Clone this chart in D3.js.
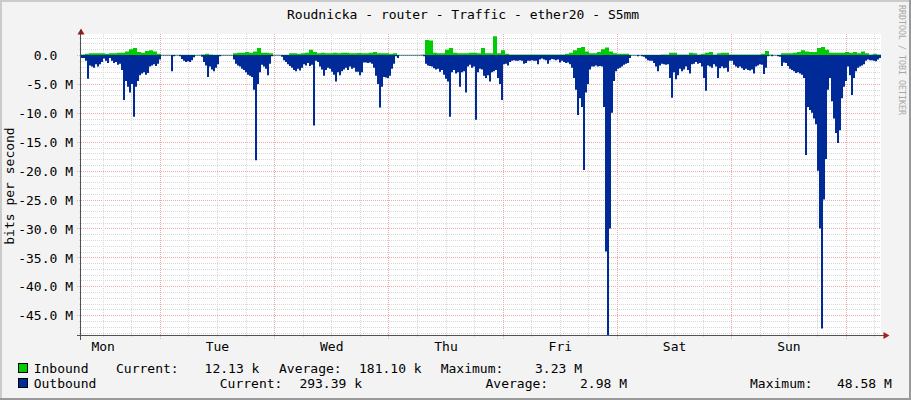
<!DOCTYPE html>
<html><head><meta charset="utf-8">
<script src="https://cdn.jsdelivr.net/npm/d3@7"></script>
<style>
body{margin:0;background:#f3f3f3}
text{font-family:"DejaVu Sans Mono",monospace;}
</style>
</head><body>
<svg id="c" width="911" height="400"></svg>
<script>
// ---------------- DATA ----------------
const title = "Roudnicka - router - Traffic - ether20 - S5mm";
const yAxisTitle = "bits per second";
const watermark = "RRDTOOL / TOBI OETIKER";
const yTickValues = [0, -5, -10, -15, -20, -25, -30, -35, -40, -45]; // Mbit/s
const yTickLabels = ["0.0  ", "-5.0 M", "-10.0 M", "-15.0 M", "-20.0 M", "-25.0 M", "-30.0 M", "-35.0 M", "-40.0 M", "-45.0 M"];
const dayLabels = ["Mon", "Tue", "Wed", "Thu", "Fri", "Sat", "Sun"];
const startTime = new Date(2024, 0, 1, 7, 27); // Monday 07:27
const spanHours = 168;
const yMin = -48.6, yMax = 3.63;

// Outbound traffic, Mbit/s (plotted downward), 400 consecutive samples
const outbound = [
  0.5,0.5,1.0,4.1,1.8,2.0,2.2,1.6,2.0,1.6,1.2,0.6,1.0,1.4,0.5,1.0,1.4,1.2,1.7,1.5,
  2.6,7.8,4.5,5.5,6.5,5.0,10.7,5.5,4.5,3.5,3.2,3.0,3.4,3.1,2.0,1.8,1.6,1.9,1.5,0.8,
  0.1,0.1,0.1,0.1,0.1,2.8,0.2,0.1,0.1,0.2,0.7,1.0,1.2,1.1,1.2,0.9,0.4,0.1,0.1,0.1,
  0.3,1.2,1.8,3.8,2.0,2.5,2.8,2.2,1.6,0.2,0.1,0.1,0.1,0.1,0.1,0.1,0.8,1.5,1.8,2.0,
  2.4,2.6,3.0,3.4,3.6,3.8,6.0,18.2,5.0,3.0,1.7,2.0,2.4,3.5,1.5,0.2,0.1,0.1,0.1,0.1,
  0.3,0.9,1.2,1.6,1.9,2.2,2.6,2.8,2.4,2.7,2.2,1.6,1.8,1.4,1.9,1.7,12.2,1.0,1.2,2.0,
  2.5,3.6,2.6,2.2,2.4,2.9,3.4,4.6,3.0,3.5,2.8,2.5,2.2,2.6,2.0,2.4,2.2,2.9,2.9,3.5,
  3.0,1.3,1.3,1.4,1.3,1.5,2.2,3.6,5.0,9.1,5.5,3.8,3.9,4.0,3.6,2.4,1.5,0.2,0.5,0.1,
  0.1,0.1,0.1,0.1,0.1,0.1,0.1,0.1,0.1,0.1,0.1,0.2,1.5,1.8,1.9,2.0,2.3,2.5,2.4,2.9,
  2.6,3.4,4.1,4.6,10.7,3.0,2.6,3.2,3.0,5.5,3.0,2.8,6.5,2.0,1.7,2.2,2.0,11.2,3.0,2.4,
  2.5,3.6,4.0,3.5,4.6,3.0,2.8,2.6,4.0,5.0,7.8,1.6,1.5,1.8,1.2,1.0,0.9,1.0,1.0,0.9,
  1.0,1.5,1.4,1.0,1.0,0.9,1.0,1.0,1.6,0.8,0.6,0.8,0.9,1.5,0.9,0.7,0.8,0.9,0.8,1.3,
  1.0,1.2,1.4,1.3,1.6,2.2,4.0,6.0,10.4,7.5,9.0,19.9,6.5,5.0,2.5,2.0,2.0,1.8,2.0,1.9,
  2.0,9.0,34.0,48.58,30.0,10.0,4.5,2.8,2.4,2.2,2.0,1.7,1.5,1.4,0.5,0.1,0.1,0.1,0.2,0.1,
  0.2,0.3,0.6,0.9,1.0,1.0,1.4,2.0,2.8,1.8,1.5,1.6,1.7,1.6,4.0,7.4,3.0,4.2,3.5,2.4,
  2.8,2.5,2.0,2.6,3.2,1.6,1.5,1.2,1.5,1.4,2.0,4.0,6.2,1.8,2.0,2.2,1.6,2.0,4.0,2.3,
  2.0,2.3,2.2,2.9,1.0,1.0,1.7,2.0,2.2,2.0,2.3,2.6,2.4,2.6,2.7,2.5,3.2,2.0,1.8,1.6,
  1.7,3.3,2.2,0.2,0.1,0.2,0.1,0.1,0.2,0.3,1.9,1.3,1.4,1.9,2.4,2.6,2.8,3.1,3.0,3.2,
  3.4,4.0,17.3,9.0,9.5,10.0,11.0,12.0,20.0,30.0,47.3,25.0,18.0,6.0,4.0,8.0,11.0,13.5,15.2,13.0,
  7.5,5.5,4.5,2.0,3.5,6.9,4.0,2.8,2.2,2.0,1.8,1.6,1.0,0.8,0.9,0.9,1.0,1.1,0.8,0.5
];

// Inbound traffic, Mbit/s (plotted upward), 200 consecutive samples
const inbound = [
  0.1,0.2,0.3,0.3,0.3,0.3,0.2,0.3,0.3,0.4,
  0.4,0.6,1.0,1.2,0.5,0.4,0.7,0.8,0.6,0.2,
  0.05,0.05,0.05,0.05,0.05,0.05,0.05,0.05,0.05,0.05,
  0.1,0.2,0.1,0.05,0.05,0.05,0.05,0.05,0.3,0.4,
  0.4,0.5,0.4,0.6,1.2,0.4,0.4,0.3,0.05,0.05,
  0.05,0.05,0.3,0.3,0.2,0.3,0.4,0.9,0.5,0.3,
  0.4,0.3,0.3,0.4,0.3,0.4,0.4,0.3,0.3,0.35,
  0.3,0.3,0.4,0.5,0.3,0.3,0.3,0.2,0.3,0.05,
  0.05,0.05,0.05,0.05,0.05,0.1,2.6,2.5,0.4,0.3,
  0.3,0.9,1.2,0.4,0.3,0.3,0.3,0.4,0.4,0.3,
  1.2,0.3,0.3,3.23,0.3,0.8,0.2,0.1,0.1,0.1,
  0.1,0.1,0.1,0.1,0.1,0.1,0.1,0.1,0.1,0.1,
  0.1,0.2,0.4,0.8,1.2,1.4,0.6,0.3,0.3,0.5,
  1.0,1.3,0.6,0.3,0.2,0.2,0.2,0.05,0.05,0.05,
  0.05,0.05,0.05,0.05,0.05,0.1,0.1,0.4,0.4,0.1,
  0.1,0.1,0.4,0.3,0.1,0.2,0.4,0.5,0.1,0.3,
  0.4,0.4,0.1,0.1,0.1,0.1,0.1,0.1,0.1,0.1,
  0.2,0.7,0.1,0.05,0.05,0.3,0.3,0.3,0.4,0.5,
  0.8,0.6,0.5,0.5,1.2,1.4,0.9,0.4,0.4,0.4,
  0.4,0.5,0.4,0.5,0.3,0.6,0.3,0.1,0.2,0.1
];

const legendNames = ["Inbound", "Outbound"];
const legendColors = ["#00cc00", "#002a97"];
const legendCurrent = ["12.13 k", "293.39 k"];
const legendAverage = ["181.10 k", "2.98 M"];
const legendMaximum = ["3.23 M", "48.58 M"];

// ---------------- LAYOUT ----------------
const W = 911, H = 400;
const L = 81, R = 881, T = 34, B = 336;
const HOUR = 3600e3;
const endTime = new Date(+startTime + spanHours * HOUR);

const svg = d3.select("#c");
svg.append("rect").attr("width", W).attr("height", H).attr("fill", "#f3f3f3");
svg.append("rect").attr("x", 0).attr("y", 0).attr("width", W).attr("height", 2).attr("fill", "#cbcbcb");
svg.append("rect").attr("x", 0).attr("y", 0).attr("width", 2).attr("height", H).attr("fill", "#cbcbcb");
svg.append("rect").attr("x", 0).attr("y", H - 2).attr("width", W).attr("height", 2).attr("fill", "#999");
svg.append("rect").attr("x", W - 2).attr("y", 0).attr("width", 2).attr("height", H).attr("fill", "#999");

const x = d3.scaleTime().domain([startTime, endTime]).range([L, R]);
const y = d3.scaleLinear().domain([yMin, yMax]).range([B, T]);

svg.append("rect").attr("x", L).attr("y", T).attr("width", R - L).attr("height", B - T).attr("fill", "#fff");

// grid
const g = svg.append("g").attr("shape-rendering", "crispEdges");
const hVals = d3.range(-48, 4, 1);
hVals.forEach(v => {
  const yy = Math.round(y(v)) + 0.5;
  const major = v % 5 === 0;
  g.append("line").attr("x1", major ? 77 : 79).attr("x2", R).attr("y1", yy).attr("y2", yy)
    .attr("stroke", major ? "#f0a8a8" : "#d8d8d8").attr("stroke-dasharray", "1,1");
});
d3.timeHour.every(6).range(startTime, endTime).forEach(t => {
  const xx = Math.round(x(t)) + 0.5;
  const major = t.getHours() === 0;
  g.append("line").attr("x1", xx).attr("x2", xx).attr("y1", T).attr("y2", B + (major ? 3 : 2))
    .attr("stroke", major ? "#f0a8a8" : "#d8d8d8").attr("stroke-dasharray", "1,1");
});

// data areas
const outStep = spanHours * HOUR / outbound.length;
const inStep = spanHours * HOUR / inbound.length;
const outPts = outbound.map((v, i) => ({t: new Date(+startTime + i * outStep), v}));
outPts.push({t: endTime, v: outbound[outbound.length - 1]});
const inPts = inbound.map((v, i) => ({t: new Date(+startTime + i * inStep), v}));
inPts.push({t: endTime, v: inbound[inbound.length - 1]});

const areaOut = d3.area().x(d => x(d.t)).y0(y(0)).y1(d => y(-d.v)).curve(d3.curveStepAfter);
const areaIn = d3.area().x(d => x(d.t)).y0(y(0)).y1(d => y(d.v)).curve(d3.curveStepAfter);
svg.append("path").attr("d", areaIn(inPts)).attr("fill", legendColors[0]);
svg.append("path").attr("d", areaOut(outPts)).attr("fill", legendColors[1]);

// axes lines
const ax = svg.append("g").attr("shape-rendering", "crispEdges");
ax.append("line").attr("x1", 80.5).attr("x2", 80.5).attr("y1", 33).attr("y2", 340).attr("stroke", "#505050");
ax.append("line").attr("x1", 77).attr("x2", 884).attr("y1", 335.5).attr("y2", 335.5).attr("stroke", "#505050");
svg.append("path").attr("d", "M81,28.5L77.5,34.5L84.5,34.5Z").attr("fill", "#8f1c1c");
svg.append("path").attr("d", "M889.5,335.5L883.5,332L883.5,339Z").attr("fill", "#b01c1c");

// y axis labels
const yAxis = d3.axisLeft(y).tickValues(yTickValues).tickFormat((d, i) => yTickLabels[i]).tickSize(0).tickPadding(8);
const yg = svg.append("g").attr("transform", `translate(${L},0)`).call(yAxis);
yg.select(".domain").remove();
yg.selectAll("text").attr("font-family", "DejaVu Sans Mono").attr("font-size", 13)
  .attr("fill", "#000").style("white-space", "pre").attr("dy", "0.36em");

// x axis day labels at noon
const noonTimes = dayLabels.map((d, i) => new Date(2024, 0, 1 + i, 12, 0));
const xAxis = d3.axisBottom(x).tickValues(noonTimes).tickFormat((d, i) => dayLabels[i]).tickSize(0).tickPadding(0);
const xg = svg.append("g").attr("transform", `translate(0,${B})`).call(xAxis);
xg.select(".domain").remove();
xg.selectAll("text").attr("font-family", "DejaVu Sans Mono").attr("font-size", 13)
  .attr("fill", "#000").attr("dy", null).attr("y", 15);

// title
svg.append("text").attr("x", 287).attr("y", 19).attr("font-size", 13).attr("fill", "#000").text(title);

// y axis title
svg.append("text").attr("transform", "translate(14,186) rotate(-90)").attr("text-anchor", "middle")
  .attr("font-size", 13).attr("fill", "#000").text(yAxisTitle);

// watermark
svg.append("text").attr("transform", "translate(899,5) rotate(90)").attr("font-size", 9)
  .attr("textLength", 110).attr("lengthAdjust", "spacingAndGlyphs").attr("fill", "#a8a8a8").text(watermark);

// legend
const legendRows = [
  {y: 373, pos: [116, 204.6, 279, 359, 440.7, 535]},
  {y: 388, pos: [219.8, 299.4, 485.5, 580, 750, 837]}
];
legendNames.forEach((name, i) => {
  const r = legendRows[i];
  svg.append("rect").attr("x", 18.5).attr("y", r.y - 9.5).attr("width", 9).attr("height", 9)
    .attr("fill", legendColors[i]).attr("stroke", "#000").attr("stroke-width", 1).attr("shape-rendering", "crispEdges");
  const parts = [name, "Current:", legendCurrent[i], "Average:", legendAverage[i], "Maximum:", legendMaximum[i]];
  const xs = [33.7].concat(r.pos);
  parts.forEach((p, k) => {
    svg.append("text").attr("x", xs[k]).attr("y", r.y).attr("font-size", 13).attr("fill", "#000").text(p);
  });
});
</script>
</body></html>
